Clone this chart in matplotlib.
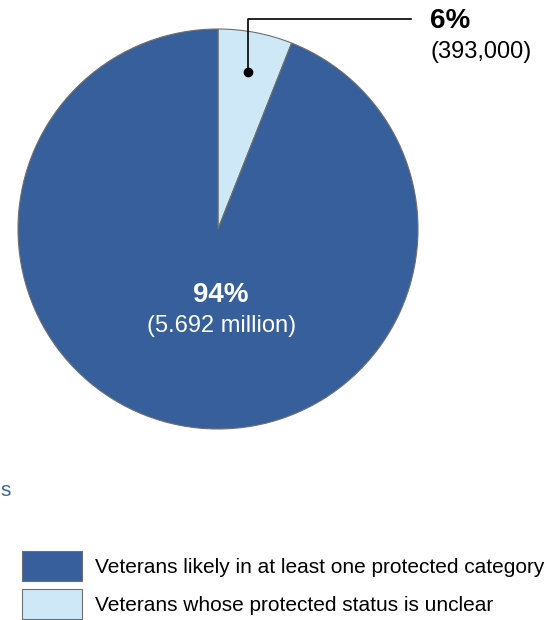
import numpy as np
import matplotlib
matplotlib.use('Agg')
import matplotlib.pyplot as plt

plt.rcParams['font.family'] = ['Liberation Sans', 'DejaVu Sans']

# data
categories = ['Veterans whose protected status is unclear',
              'Veterans likely in at least one protected category']
shares = [6, 94]
pct_labels = ['6%', '94%']
count_labels = ['(393,000)', '(5.692 million)']
colors = ['#cfe8f7', '#365f9c']

W, H = 547, 620
fig = plt.figure(figsize=(W / 100, H / 100), dpi=100)
ax = fig.add_axes([0, 0, 1, 1])

cx, cy, r = 218, 391, 200
wedges, _ = ax.pie(shares, colors=colors, startangle=90, counterclock=False,
                   center=(cx, cy), radius=r, frame=True,
                   wedgeprops={'edgecolor': '#6f6f6f', 'linewidth': 0.8})
ax.set_xlim(0, W)
ax.set_ylim(0, H)
ax.set_aspect('equal')
ax.axis('off')

# callout for the small slice
w = wedges[0]
mid = np.deg2rad((w.theta1 + w.theta2) / 2)
dx, dy = cx + 0.80 * r * np.cos(mid), cy + 0.80 * r * np.sin(mid)
top = 601
ax.plot([dx, dx, 411], [dy, top, top], color='black', lw=1.2)
ax.plot(dx, dy, 'o', color='black', ms=6)
ax.text(430, 592, pct_labels[0], fontsize=20, fontweight='bold', ha='left', va='baseline')
ax.text(430, 562, count_labels[0], fontsize=17, ha='left', va='baseline')

# label inside the big slice
ax.text(cx + 3, 318, pct_labels[1], fontsize=20, fontweight='bold', color='white',
        ha='center', va='baseline')
ax.text(cx + 4, 288, count_labels[1], fontsize=17, color='white',
        ha='center', va='baseline')

ax.text(0, 124, 's', fontsize=15, color='#3a64a8', ha='left', va='baseline')

leg = ax.legend([wedges[1], wedges[0]], [categories[1], categories[0]],
                loc='upper left', bbox_to_anchor=(22 / W, 1 - 551 / H),
                frameon=False, fontsize=15, borderpad=0, borderaxespad=0,
                handlelength=2.88, handleheight=1.85, handletextpad=0.62,
                labelspacing=0.38)

fig.savefig('out.png', dpi=100)
